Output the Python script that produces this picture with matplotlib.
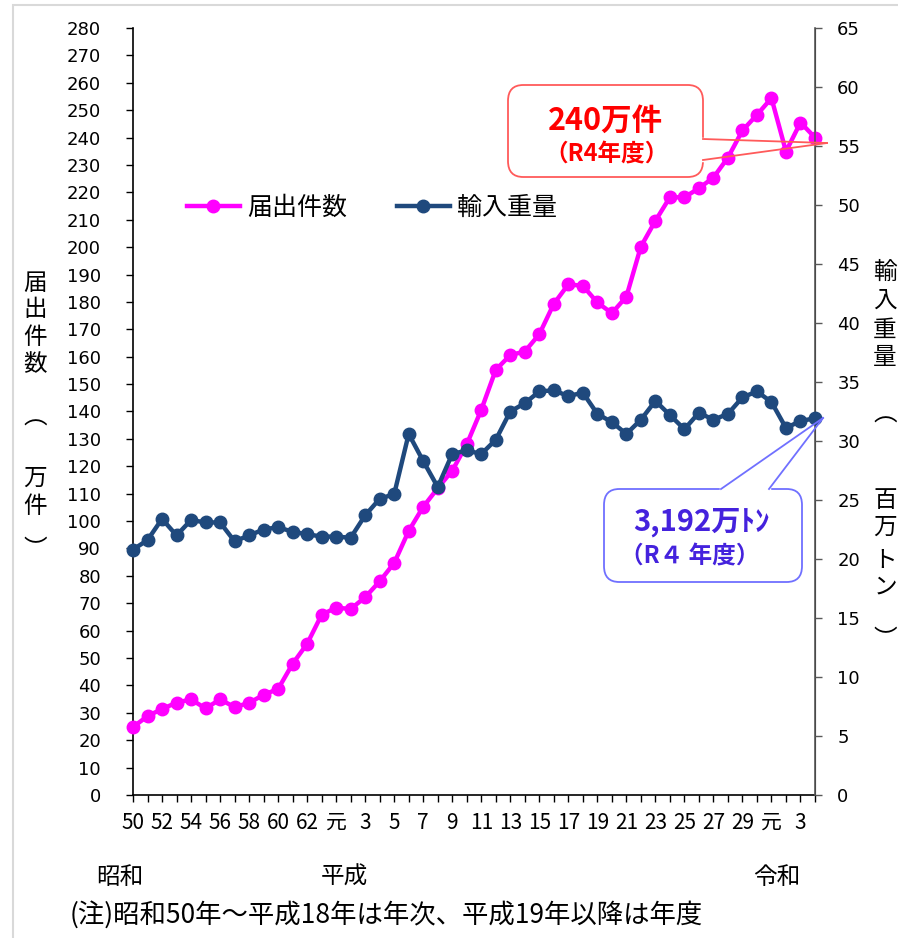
import matplotlib
matplotlib.use('Agg')
import matplotlib.pyplot as plt
from matplotlib.patches import FancyBboxPatch, Rectangle
from matplotlib.lines import Line2D

plt.rcParams['font.family'] = ['Noto Sans CJK JP', 'DejaVu Sans']

# データ（昭和50年＝1975 ～ 令和4年度＝2022）
years = list(range(1975, 2023))
# 届出件数（万件）
notifications = [24.8, 28.8, 31.4, 33.7, 34.9, 31.6, 34.9, 32.1, 33.6, 36.6,
                 38.7, 47.9, 55.2, 65.8, 68.4, 67.9, 72.2, 78.0, 84.7, 96.4,
                 105.2, 112.0, 118.4, 128.0, 140.6, 155.2, 160.6, 161.9, 168.2, 179.3,
                 186.4, 185.9, 179.8, 175.9, 181.9, 200.2, 209.6, 218.2, 218.2, 221.5,
                 225.4, 232.7, 242.6, 248.3, 254.4, 234.9, 245.5, 240.0]
# 輸入重量（百万トン）
imports = [20.8, 21.6, 23.4, 22.0, 23.3, 23.1, 23.1, 21.5, 22.0, 22.5,
           22.7, 22.3, 22.1, 21.9, 21.9, 21.8, 23.7, 25.1, 25.5, 30.6,
           28.3, 26.1, 28.9, 29.2, 28.9, 30.1, 32.5, 33.2, 34.2, 34.3,
           33.8, 34.1, 32.3, 31.6, 30.6, 31.8, 33.4, 32.2, 31.0, 32.4,
           31.8, 32.3, 33.7, 34.2, 33.3, 31.1, 31.7, 31.92]
xtick_labels = ['50', '', '52', '', '54', '', '56', '', '58', '', '60', '', '62', '',
                '元', '', '3', '', '5', '', '7', '', '9', '', '11', '', '13', '',
                '15', '', '17', '', '19', '', '21', '', '23', '', '25', '', '27', '',
                '29', '', '元', '', '3', '']

W, H = 898, 938


def fx(x):
    return x / W


def fy(y):
    return 1 - y / H


fig = plt.figure(figsize=(W / 100, H / 100), dpi=100)
fig.patches.append(Rectangle((fx(13), fy(960)), fx(900), fy(5) - fy(960), transform=fig.transFigure,
                             fill=False, ec='#D9D9D9', lw=1.5))

ax = fig.add_axes([fx(133), fy(795), fx(815) - fx(133), fy(28) - fy(795)])
ax2 = ax.twinx()

mag = '#FF00FF'
navy = '#1F497D'
l1, = ax.plot(years, notifications, color=mag, lw=3.2, marker='o', ms=9, clip_on=False, zorder=3)
l2, = ax2.plot(years, imports, color=navy, lw=3.2, marker='o', ms=9, clip_on=False, zorder=3)

ax.set_xlim(1975, 2022)
ax.set_ylim(0, 280)
ax2.set_ylim(0, 65)
ax.set_yticks(range(0, 281, 10))
ax2.set_yticks(range(0, 66, 5))
ax.set_xticks(years)
ax.set_xticklabels(xtick_labels, fontsize=15)

for a in (ax, ax2):
    a.spines['top'].set_visible(False)
ax2.spines['left'].set_visible(False)
ax2.spines['bottom'].set_visible(False)
ax.spines['left'].set_linewidth(1.2)
ax.spines['bottom'].set_linewidth(1.2)
ax2.spines['right'].set_color('#595959')
ax2.spines['right'].set_linewidth(1.2)

ax.tick_params(axis='y', direction='out', length=5, width=1, pad=18, colors='black')
ax.tick_params(axis='x', direction='out', length=5, width=1, pad=7)
ax2.tick_params(axis='y', direction='out', length=5, width=1, pad=11, color='#595959')
for t in ax.get_yticklabels() + ax2.get_yticklabels():
    t.set_fontfamily('DejaVu Sans')
    t.set_fontsize(13)

# 凡例
ax.legend([l1, l2], ['届出件数', '輸入重量'], loc='center left', bbox_to_anchor=(fx(187), fy(208)),
          bbox_transform=fig.transFigure, ncol=2, frameon=False, fontsize=18,
          handlelength=2.1, handletextpad=0.3, columnspacing=2.0, borderpad=0, borderaxespad=0)

# 縦書きの軸ラベル
for ch, y in zip('届出件数︵万件︶', [283, 309, 337, 365, 418, 478, 506, 550]):
    fig.text(fx(35), fy(y), ch, fontsize=17, ha='center', va='center')
for ch, y in zip('輸入重量︵百万トン︶', [272, 300, 330, 358, 415, 500, 527, 560, 587, 640]):
    fig.text(fx(885), fy(y), ch, fontsize=17, ha='center', va='center')

# 元号・注記
fig.text(fx(120), fy(877), '昭和', fontsize=17, ha='center', va='center')
fig.text(fx(344), fy(877), '平成', fontsize=17, ha='center', va='center')
fig.text(fx(777), fy(877), '令和', fontsize=17, ha='center', va='center')
fig.text(fx(70), fy(915), '(注)昭和50年～平成18年は年次、平成19年以降は年度', fontsize=19,
         ha='left', va='center')


def callout(x0, y0, x1, y1, b0, b1, tip, edge):
    box = FancyBboxPatch((fx(x0), fy(y1)), fx(x1) - fx(x0), fy(y0) - fy(y1),
                         boxstyle='round,pad=0,rounding_size=0.017', transform=fig.transFigure,
                         fc='white', ec=edge, lw=1.3, zorder=10)
    fig.patches.append(box)
    fig.lines.append(Line2D([fx(b0[0]), fx(b1[0])], [fy(b0[1]), fy(b1[1])], transform=fig.transFigure,
                            color='white', lw=2.5, zorder=11))
    for b in (b0, b1):
        fig.lines.append(Line2D([fx(b[0]), fx(tip[0])], [fy(b[1]), fy(tip[1])], transform=fig.transFigure,
                                color=edge, lw=1.3, zorder=12))


callout(508, 85, 703, 177, (703, 139), (703, 160), (827, 143), '#FF5A5A')
callout(604, 489, 802, 582, (721, 489), (769, 489), (823, 418), '#7070FF')

fig.text(fx(605), fy(121), '240万件', fontsize=22, fontweight='bold', color='#FF0000',
         ha='center', va='center', zorder=13)
fig.text(fx(607), fy(154), '（R4年度）', fontsize=17, fontweight='bold', color='#FF0000',
         ha='center', va='center', zorder=13)
fig.text(fx(702), fy(522), '3,192万ﾄﾝ', fontsize=21, fontweight='bold', color='#4422DD',
         ha='center', va='center', zorder=13)
fig.text(fx(690), fy(556), '（R４ 年度）', fontsize=17, fontweight='bold', color='#4422DD',
         ha='center', va='center', zorder=13)

fig.savefig('out.png', dpi=100)
